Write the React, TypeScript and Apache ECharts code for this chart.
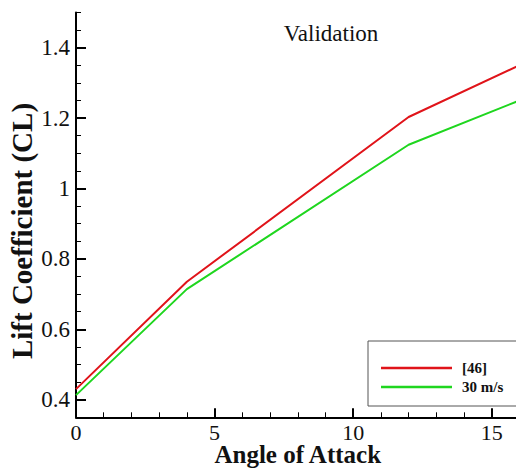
import React, { useEffect, useRef } from "react";
import * as echarts from "echarts";

const angles = [0, 4, 12, 16];
const ref46 = [0.43, 0.735, 1.203, 1.35];
const speed30 = [0.413, 0.714, 1.124, 1.25];
const seriesNames = ["[46]", "30 m/s"];
const xMajorTicks = [0, 5, 10, 15];
const yMajorTicks = [0.4, 0.6, 0.8, 1, 1.2, 1.4];
const titleText = "Validation";
const xTitle = "Angle of Attack";
const yTitle = "Lift Coefficient (CL)";

const FONT = "'Times New Roman', 'Liberation Serif', serif";

export default function App() {
  const ref = useRef<HTMLDivElement>(null);
  useEffect(() => {
    if (!ref.current) return;
    const chart = echarts.init(ref.current, undefined, { renderer: "svg" });
    const axisLine = { show: true, onZero: false, lineStyle: { color: "#000", width: 2 } };
    chart.setOption({
      animation: false,
      backgroundColor: "#fff",
      textStyle: { fontFamily: FONT },
      title: {
        text: titleText,
        left: 326,
        top: 17,
        textAlign: "center",
        textStyle: { fontFamily: FONT, fontSize: 23, fontWeight: "normal", fontStyle: "normal", color: "#111" },
      },
      grid: { left: 76, top: 12.4, bottom: 50.7, right: -3.5, containLabel: false, outerBoundsMode: "none" },
      legend: {
        left: 368,
        top: 341,
        orient: "vertical",
        data: seriesNames,
        icon: "rect",
        itemWidth: 71,
        itemHeight: 2.5,
        itemGap: 3,
        padding: [19, 60, 11, 13],
        borderColor: "#555",
        borderWidth: 1,
        backgroundColor: "#fff",
        textStyle: { fontFamily: FONT, fontSize: 15, fontWeight: "bold", color: "#111", lineHeight: 16, padding: [0, 0, 0, 5] },
      },
      xAxis: [
        {
          type: "value",
          min: 0,
          max: 16,
          position: "bottom",
          axisLine,
          splitLine: { show: false },
          axisTick: { inside: true, length: 9, lineStyle: { color: "#000", width: 2 }, customValues: xMajorTicks },
          axisLabel: {
            customValues: xMajorTicks,
            margin: 6,
            fontFamily: FONT,
            fontSize: 22,
            lineHeight: 18,
            fontWeight: "normal",
            fontStyle: "normal",
            color: "#111",
          },
          name: xTitle,
          nameLocation: "middle",
          nameGap: 26,
          nameMoveOverlap: false,
          nameTextStyle: { fontFamily: FONT, fontSize: 25, lineHeight: 22, fontWeight: "bold", color: "#111" },
        },
        {
          type: "value",
          min: 0,
          max: 16,
          interval: 1,
          position: "bottom",
          axisLine: { show: false, onZero: false },
          splitLine: { show: false },
          axisTick: { inside: true, length: 5, lineStyle: { color: "#000", width: 1 } },
          axisLabel: { show: false },
        },
      ],
      yAxis: [
        {
          type: "value",
          min: 0.35,
          max: 1.5,
          position: "left",
          axisLine,
          splitLine: { show: false },
          axisTick: { inside: true, length: 10, lineStyle: { color: "#000", width: 2 }, customValues: yMajorTicks },
          axisLabel: { customValues: yMajorTicks, margin: 6, fontFamily: FONT, fontSize: 23, fontWeight: "normal", fontStyle: "normal", color: "#111" },
        },
        {
          type: "value",
          min: 0.35,
          max: 1.5,
          interval: 0.05,
          position: "left",
          axisLine: { show: false, onZero: false },
          splitLine: { show: false },
          axisTick: { inside: true, length: 5, lineStyle: { color: "#000", width: 1 } },
          axisLabel: { show: false },
        },
      ],
      graphic: [
        {
          type: "text",
          x: 22,
          y: 231,
          rotation: Math.PI / 2,
          style: {
            text: yTitle,
            fontFamily: FONT,
            fontSize: 29,
            fontWeight: "bold",
            fill: "#111",
            align: "center",
            verticalAlign: "middle",
          },
        },
      ],
      series: [
        {
          name: seriesNames[0],
          type: "line",
          data: angles.map((a, i) => [a, ref46[i]]),
          symbol: "none",
          lineStyle: { color: "#e0141a", width: 2 },
          itemStyle: { color: "#e0141a" },
          z: 3,
        },
        {
          name: seriesNames[1],
          type: "line",
          data: angles.map((a, i) => [a, speed30[i]]),
          symbol: "none",
          lineStyle: { color: "#1fd61f", width: 2 },
          itemStyle: { color: "#1fd61f" },
          z: 3,
        },
      ],
    });
    return () => chart.dispose();
  }, []);
  return <div ref={ref} style={{ width: 516, height: 468, position: "fixed", left: 0, top: 0 }} />;
}
